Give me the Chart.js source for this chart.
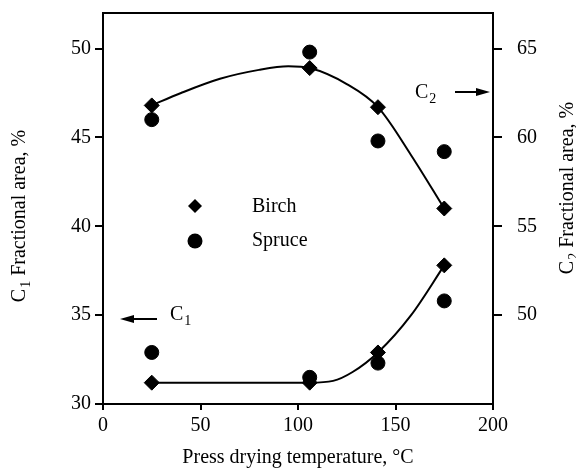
<!DOCTYPE html>
<html>
<head>
<meta charset="utf-8">
<script src="https://cdn.jsdelivr.net/npm/chart.js@4.4.0/dist/chart.umd.min.js"></script>
<style>
  html, body { margin: 0; padding: 0; background: #fff; }
  #wrap { width: 576px; height: 468px; }
</style>
</head>
<body>
<div id="wrap"><canvas id="myChart" width="576" height="468"></canvas></div>
<script>
// measured points (press drying temperature, °C)
var temps = [25, 106, 141, 175];
var birchC1 = [31.2, 31.2, 32.9, 37.8];
var spruceC1 = [32.9, 31.5, 32.3, 35.8];
var birchC2 = [61.8, 63.9, 61.7, 56.0];
var spruceC2 = [61.0, 64.8, 59.8, 59.2];

// fitted curves
var fitC1Temps = [25, 60, 106, 118, 128, 141, 158, 175];
var fitC1 = [31.2, 31.2, 31.2, 31.3, 31.8, 32.9, 35.0, 37.8];
var fitC2Temps = [25, 40, 60, 80, 95, 106, 125, 141, 158, 175];
var fitC2 = [61.8, 62.5, 63.3, 63.8, 64.0, 63.9, 63.0, 61.7, 59.0, 56.0];

// tick labels
var xTicks = [0, 50, 100, 150, 200];
var leftTicks = [30, 35, 40, 45, 50];
var rightTicks = [50, 55, 60, 65];

var serif = "'Liberation Serif', 'Times New Roman', serif";

function pts(xs, ys) {
  return xs.map(function (x, i) { return { x: x, y: ys[i] }; });
}

function pointSet(ys, style, axis, r) {
  return {
    data: pts(temps, ys),
    yAxisID: axis,
    showLine: false,
    pointStyle: style,
    pointRadius: r,
    pointHoverRadius: r,
    backgroundColor: "#000",
    borderColor: "#000",
    borderWidth: 1,
  };
}

function fitSet(xs, ys, axis) {
  return {
    data: pts(xs, ys),
    yAxisID: axis,
    showLine: true,
    pointRadius: 0,
    borderColor: "#000",
    borderWidth: 2,
    cubicInterpolationMode: "monotone",
    fill: false,
  };
}

// C with a subscript, returns width
function drawC(ctx, x, y, sub, size) {
  ctx.font = size + "px " + serif;
  ctx.fillText("C", x, y);
  var w = ctx.measureText("C").width;
  ctx.font = Math.round(size * 0.68) + "px " + serif;
  ctx.fillText(sub, x + w + 1, y + 5);
  return w + 1 + ctx.measureText(sub).width;
}

function measureC(ctx, sub, size) {
  ctx.font = size + "px " + serif;
  var w = ctx.measureText("C").width;
  ctx.font = Math.round(size * 0.68) + "px " + serif;
  return w + 1 + ctx.measureText(sub).width;
}

function arrow(ctx, x1, x2, y) {
  // arrow drawn from x1 to x2 with head at x2
  var dir = x2 > x1 ? 1 : -1;
  ctx.beginPath();
  ctx.moveTo(x1, y);
  ctx.lineTo(x2 - dir * 10, y);
  ctx.lineWidth = 2;
  ctx.stroke();
  ctx.beginPath();
  ctx.moveTo(x2, y);
  ctx.lineTo(x2 - dir * 14, y - 4);
  ctx.lineTo(x2 - dir * 14, y + 4);
  ctx.closePath();
  ctx.fill();
}

function verticalTitle(ctx, cx, cy, sub, rest) {
  var size = 20;
  ctx.save();
  ctx.translate(cx, cy);
  ctx.rotate(-Math.PI / 2);
  ctx.textAlign = "left";
  ctx.textBaseline = "alphabetic";
  var wc = measureC(ctx, sub, size);
  ctx.font = size + "px " + serif;
  var wr = ctx.measureText(rest).width;
  var x0 = -(wc + wr) / 2;
  drawC(ctx, x0, 7, sub, size);
  ctx.font = size + "px " + serif;
  ctx.fillText(rest, x0 + wc, 7);
  ctx.restore();
}

var decor = {
  id: "decor",
  afterDraw: function (chart) {
    var ctx = chart.ctx;
    var a = chart.chartArea;
    ctx.save();
    ctx.fillStyle = "#000";
    ctx.strokeStyle = "#000";

    // frame
    ctx.lineWidth = 2;
    ctx.strokeRect(a.left, a.top, a.right - a.left, a.bottom - a.top);

    // axis titles
    ctx.textAlign = "center";
    ctx.textBaseline = "alphabetic";
    ctx.font = "20px " + serif;
    ctx.fillText("Press drying temperature, \u00B0C", (a.left + a.right) / 2, 463);
    verticalTitle(ctx, 18, 216, "1", " Fractional area, %");
    verticalTitle(ctx, 566, 188, "2", " Fractional area, %");

    // C2 and C1 markers
    ctx.textAlign = "left";
    drawC(ctx, 415, 98, "2", 20);
    arrow(ctx, 455, 490, 92);
    drawC(ctx, 170, 320, "1", 20);
    arrow(ctx, 157, 120, 319);

    // legend
    ctx.beginPath();
    ctx.moveTo(195 - 7, 206);
    ctx.lineTo(195, 206 - 7);
    ctx.lineTo(195 + 7, 206);
    ctx.lineTo(195, 206 + 7);
    ctx.closePath();
    ctx.fill();
    ctx.beginPath();
    ctx.arc(195, 241, 7.5, 0, Math.PI * 2);
    ctx.fill();
    ctx.font = "20px " + serif;
    ctx.fillText("Birch", 252, 212);
    ctx.fillText("Spruce", 252, 246);
    ctx.restore();
  },
};

function axisStyle(tickLen, pad) {
  return {
    grid: {
      display: true,
      drawOnChartArea: false,
      drawTicks: true,
      tickLength: tickLen,
      color: "#000",
      lineWidth: 2,
    },
    border: { display: true, color: "#000", width: 2 },
    ticks: {
      color: "#000",
      padding: pad,
      font: { family: serif, size: 20 },
    },
  };
}

function noPad(axis) {
  axis.paddingTop = 0;
  axis.paddingBottom = 0;
  axis.paddingLeft = 0;
  axis.paddingRight = 0;
}

var xAxis = axisStyle(6, 4);
xAxis.type = "linear";
xAxis.position = "bottom";
xAxis.min = 0;
xAxis.max = 200;
xAxis.afterBuildTicks = function (axis) {
  axis.ticks = xTicks.map(function (v) { return { value: v }; });
};
xAxis.afterFit = function (axis) { axis.height = 64; noPad(axis); };

var yAxis = axisStyle(8, 4);
yAxis.type = "linear";
yAxis.position = "left";
yAxis.min = 30;
yAxis.max = 52;
yAxis.afterBuildTicks = function (axis) {
  axis.ticks = leftTicks.map(function (v) { return { value: v }; });
};
yAxis.afterFit = function (axis) { axis.width = 103; noPad(axis); };

var y2Axis = axisStyle(9, 15);
y2Axis.type = "linear";
y2Axis.position = "right";
y2Axis.min = 45;
y2Axis.max = 67;
y2Axis.afterBuildTicks = function (axis) {
  axis.ticks = rightTicks.map(function (v) { return { value: v }; });
};
y2Axis.afterFit = function (axis) { axis.width = 83; noPad(axis); };

var ctx = document.getElementById("myChart").getContext("2d");
var myChart = new Chart(ctx, {
  type: "scatter",
  data: {
    datasets: [
      pointSet(birchC2, "rectRot", "y2", 7.5),
      pointSet(spruceC2, "circle", "y2", 7),
      pointSet(birchC1, "rectRot", "y", 7.5),
      pointSet(spruceC1, "circle", "y", 7),
      fitSet(fitC2Temps, fitC2, "y2"),
      fitSet(fitC1Temps, fitC1, "y"),
    ],
  },
  options: {
    responsive: false,
    animation: false,
    layout: { padding: { top: 13, left: 0, right: 0, bottom: 0 } },
    plugins: {
      legend: { display: false },
      tooltip: { enabled: false },
    },
    scales: {
      x: xAxis,
      y: yAxis,
      y2: y2Axis,
    },
  },
  plugins: [decor],
});
</script>
</body>
</html>
